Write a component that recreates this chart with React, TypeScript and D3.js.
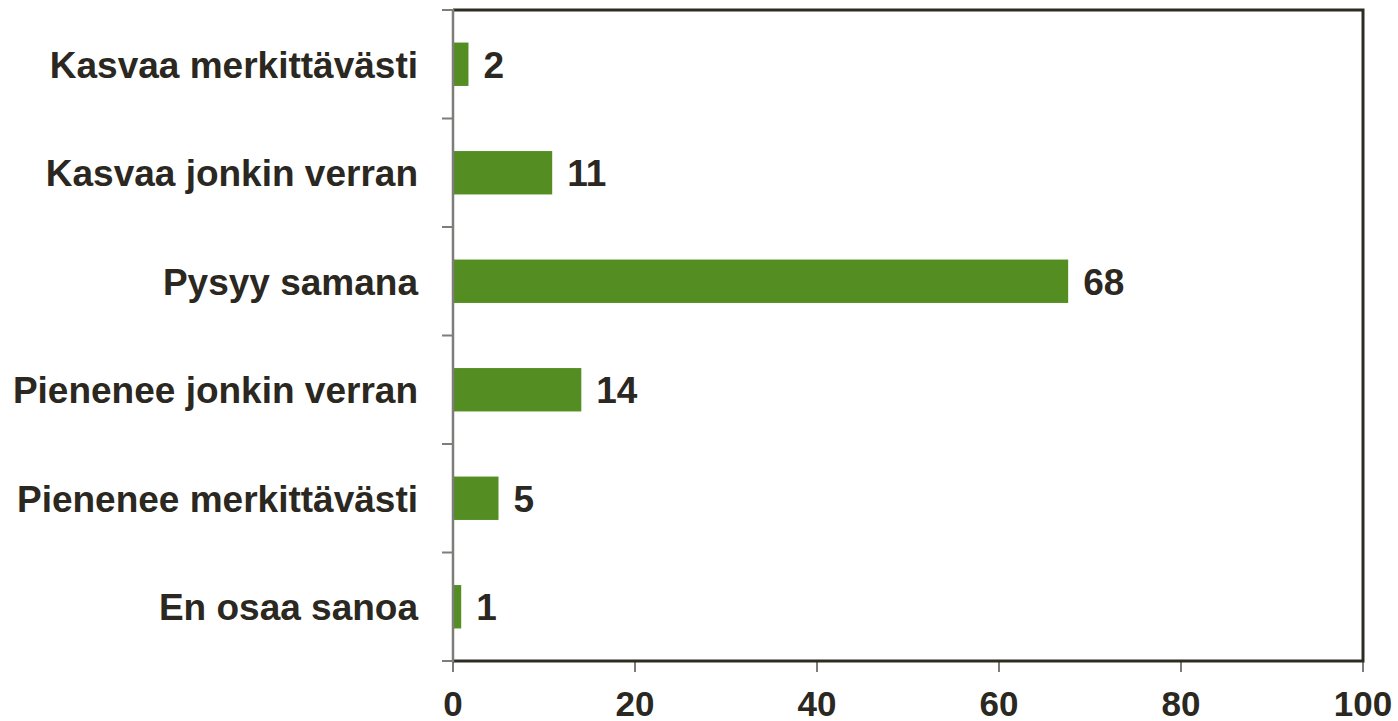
import React, { useEffect, useRef } from 'react';
import * as d3 from 'd3';

// categories, top to bottom
const categories = [
  'Kasvaa merkittävästi',
  'Kasvaa jonkin verran',
  'Pysyy samana',
  'Pienenee jonkin verran',
  'Pienenee merkittävästi',
  'En osaa sanoa',
];
// percentages (shown rounded)
const values = [1.7, 10.9, 67.6, 14.1, 5.0, 0.9];
const xTicks = [0, 20, 40, 60, 80, 100];

const W = 1398;
const H = 721;
const margin = { top: 10, right: 35, bottom: 60, left: 453 };
const FONT = '"Liberation Sans", Arial, Helvetica, sans-serif';
const TEXT = '#2b2721';
const DARK = '#2e2b23';
const GREY = '#7d7d7a';
const GREEN = '#548e22';

export default function App() {
  const ref = useRef<SVGSVGElement>(null);

  useEffect(() => {
    const svg = d3.select(ref.current);
    svg.selectAll('*').remove();

    const x0 = margin.left;
    const x1 = W - margin.right;
    const y0 = margin.top;
    const y1 = H - margin.bottom;

    const x = d3.scaleLinear().domain([0, 100]).range([x0, x1]);
    const y = d3
      .scaleBand<string>()
      .domain(categories)
      .range([y0, y1])
      .paddingInner(0.6)
      .paddingOuter(0.3);
    const step = y.step();

    const g = svg.append('g');

    // bars
    g.selectAll('rect.bar')
      .data(values)
      .enter()
      .append('rect')
      .attr('class', 'bar')
      .attr('x', x(0))
      .attr('y', (d, i) => y(categories[i]) as number)
      .attr('width', (d) => x(d) - x(0))
      .attr('height', y.bandwidth())
      .attr('fill', GREEN);

    // value labels
    g.selectAll('text.val')
      .data(values)
      .enter()
      .append('text')
      .attr('class', 'val')
      .attr('x', (d) => x(d) + 15)
      .attr('y', (d, i) => (y(categories[i]) as number) + y.bandwidth() / 2)
      .attr('dy', '0.36em')
      .attr('font-family', FONT)
      .attr('font-weight', 'bold')
      .attr('font-size', 37)
      .attr('fill', TEXT)
      .text((d) => d3.format('.0f')(d));

    // category labels
    g.selectAll('text.cat')
      .data(categories)
      .enter()
      .append('text')
      .attr('class', 'cat')
      .attr('x', x0 - 35)
      .attr('y', (d) => (y(d) as number) + y.bandwidth() / 2)
      .attr('dy', '0.36em')
      .attr('text-anchor', 'end')
      .attr('font-family', FONT)
      .attr('font-weight', 'bold')
      .attr('font-size', 37)
      .attr('fill', TEXT)
      .text((d) => d);

    // left axis ticks at category boundaries
    const bounds = d3.range(categories.length + 1).map((k) => y0 + k * step);
    g.selectAll('line.ltick')
      .data(bounds)
      .enter()
      .append('line')
      .attr('x1', x0 - 11)
      .attr('x2', x0)
      .attr('y1', (d) => d)
      .attr('y2', (d) => d)
      .attr('stroke', GREY)
      .attr('stroke-width', 2);

    // bottom ticks
    g.selectAll('line.btick')
      .data(xTicks)
      .enter()
      .append('line')
      .attr('x1', (d) => x(d))
      .attr('x2', (d) => x(d))
      .attr('y1', y1)
      .attr('y2', y1 + 11)
      .attr('stroke', GREY)
      .attr('stroke-width', 2);

    g.selectAll('text.xt')
      .data(xTicks)
      .enter()
      .append('text')
      .attr('x', (d) => x(d))
      .attr('y', 716)
      .attr('text-anchor', 'middle')
      .attr('font-family', FONT)
      .attr('font-weight', 'bold')
      .attr('font-size', 35)
      .attr('fill', TEXT)
      .text((d) => d);

    // frame: top, right, bottom dark; left grey
    g.append('path')
      .attr('d', `M${x0},${y0}H${x1}V${y1}H${x0}`)
      .attr('fill', 'none')
      .attr('stroke', DARK)
      .attr('stroke-width', 3);
    g.append('line')
      .attr('x1', x0)
      .attr('x2', x0)
      .attr('y1', y0 - 1)
      .attr('y2', y1 + 1)
      .attr('stroke', GREY)
      .attr('stroke-width', 2.5);
  }, []);

  return (
    <svg
      ref={ref}
      width={W}
      height={H}
      style={{ position: 'absolute', left: 0, top: 0, background: '#fff' }}
    />
  );
}
